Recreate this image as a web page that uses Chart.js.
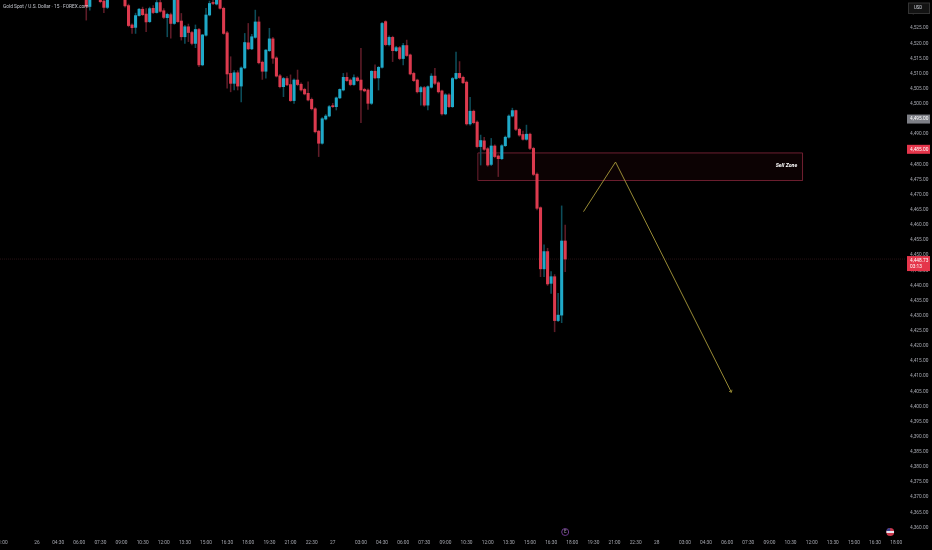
<!DOCTYPE html>
<html>
<head>
<meta charset="utf-8">
<title>Gold Spot / U.S. Dollar</title>
<script src="https://cdn.jsdelivr.net/npm/chart.js@4/dist/chart.umd.min.js"></script>
<style>
  html, body { margin: 0; padding: 0; background: #000; overflow: hidden; }
  canvas { display: block; }
</style>
</head>
<body>
<canvas id="goldChart" width="932" height="550"></canvas>
<script>
// 15 minute bars, one slot per category, blank = no tick text
const categories = [
  '21:00','','','','','','','','','',
  '26','','','','','',
  '04:30','','','','','',
  '06:00','','','','','',
  '07:30','','','','','',
  '09:00','','','','','',
  '10:30','','','','','',
  '12:00','','','','','',
  '13:30','','','','','',
  '15:00','','','','','',
  '16:30','','','','','',
  '18:00','','','','','',
  '19:30','','','','','',
  '21:00','','','','','',
  '22:30','','','','','',
  '27','','','','','','','',
  '03:00','','','','','',
  '04:30','','','','','',
  '06:00','','','','','',
  '07:30','','','','','',
  '09:00','','','','','',
  '10:30','','','','','',
  '12:00','','','','','',
  '13:30','','','','','',
  '15:00','','','','','',
  '16:30','','','','','',
  '18:00','','','','','',
  '19:30','','','','','',
  '21:00','','','','','',
  '22:30','','','','','',
  '28','','','','','','','',
  '03:00','','','','','',
  '04:30','','','','','',
  '06:00','','','','','',
  '07:30','','','','','',
  '09:00','','','','','',
  '10:30','','','','','',
  '12:00','','','','','',
  '13:30','','','','','',
  '15:00','','','','','',
  '16:30','','','','','',
  '18:00','',''
];

// first slot that has a bar, everything earlier is off the picture
const firstBar = 24;

const opens = [
  4537,4532.2,4536,4538,4536,4534,4531.9,4537,4540,4541,
  4539,4537,4532.5,4526.1,4525.3,4529.2,4531.3,4529.7,4527.2,4531.6,
  4530.2,4533.5,4530.8,4528.5,4529.5,4526.6,4535,4527.4,4522.2,4525.5,
  4523.6,4520,4524.6,4512.9,4522.7,4529.4,4533.5,4533,4536,4531.6,
  4523.5,4510.1,4506.8,4510.3,4505.9,4511.9,4520.2,4518.2,4522,4527.1,
  4513.8,4510.8,4517.6,4521.5,4515.2,4509.3,4505.7,4508.4,4506.4,4501.1,
  4507.9,4506.5,4504.8,4503.5,4501.5,4498.4,4491,4487,4495,4496,
  4499.4,4499.1,4502,4504.6,4508.8,4507.9,4506.4,4508.6,4507.9,4504.8,
  4504.6,4500.2,4510.8,4508.6,4512.1,4527.2,4519.6,4522,4517.6,4518.6,
  4515,4519.3,4516.2,4510.1,4507.9,4504,4505.4,4499.6,4505.5,4509.2,
  4507,4504.3,4496.7,4503,4499.1,4508.4,4510.1,4508.8,4507.2,4493.4,
  4497.6,4494,4485.9,4487.8,4485.2,4480,4486.1,4482.8,4481.9,4486.2,
  4489,4496,4497.8,4491.6,4489.9,4488.3,4490,4485.3,4476.8,4465.7,
  4445.5,4451.2,4440.7,4442.9,4428.4,4430.2,4454.7
];
const closes = [
  4532.2,4536,4538,4539,4533.8,4531.9,4537,4540,4541,4539,
  4538,4532.4,4525.9,4525.2,4529.2,4531.3,4529.5,4527.1,4531.5,4530.2,
  4533.5,4530.6,4528.6,4529.6,4526.6,4535,4527.2,4522.2,4525.5,4523.6,
  4520,4524.6,4512.9,4522.8,4529.4,4533.2,4533.2,4536,4531.6,4523.3,
  4509.9,4506.8,4510.3,4505.9,4511.9,4520.3,4518.2,4522.2,4527.1,4513.6,
  4510.8,4517.8,4521.5,4515.1,4509.2,4505.7,4508.4,4506.3,4501.1,4507.9,
  4506.4,4504.6,4503.3,4501.3,4498.4,4490.8,4487,4495.1,4496,4499.1,
  4499.1,4502,4504.8,4508.8,4507.7,4506.4,4508.7,4507.7,4504.6,4504.3,
  4500.2,4510.8,4508.6,4512.1,4526.6,4519.6,4522,4517.6,4518.6,4515,
  4519.3,4516,4509.9,4507.7,4504,4505.4,4499.6,4505.7,4509.2,4506.8,
  4504,4496.7,4503,4499.1,4508.4,4510.1,4508.7,4507,4493.4,4497.6,
  4493.8,4485.9,4487.9,4485,4479.8,4486.1,4482.6,4481.9,4486.2,4489,
  4496,4497.8,4491.6,4489.7,4488.3,4490,4485.3,4476.7,4465.5,4445.5,
  4451.2,4440.5,4442.9,4428.4,4430.2,4454.7,4448.73
];
const highs = [
  4538,4537,4539,4540,4537,4535,4538,4541,4542,4542,
  4540,4538,4533,4526.5,4530,4531.6,4532,4531.5,4532,4532.5,
  4534.2,4534.3,4531.5,4530,4530,4536,4536,4529.9,4526,4526.4,
  4524,4526.1,4525,4523,4531.6,4534,4535,4537,4537,4532,
  4524,4515.6,4511,4511,4512.3,4523.3,4526.6,4523,4531,4528.8,
  4514.2,4518,4525,4522,4515.6,4509.8,4508.8,4509,4509.6,4508.3,
  4511.2,4507,4505.2,4507.3,4502,4498.8,4491.3,4495.5,4496.5,4499.5,
  4500.2,4502.3,4505,4510.1,4510.3,4508.3,4509.6,4509,4518.4,4505.2,
  4505,4511,4512.9,4512.4,4527,4527.5,4522.5,4522.4,4519,4519,
  4520,4521.1,4516.5,4510.5,4508.2,4505.8,4505.8,4506,4510,4511.8,
  4507.4,4504.6,4503.4,4503.4,4508.8,4517.1,4514,4509.2,4507.6,4502.2,
  4498,4494.4,4489.7,4489,4485.6,4488.6,4486.5,4483.2,4486.6,4489.4,
  4496.4,4498.6,4498,4492,4491,4493,4490.4,4485.7,4477.2,4466,
  4453.4,4452.3,4444.6,4443.6,4437.4,4466.3,4460
];
const lows = [
  4527.7,4531,4535.5,4537.5,4533.4,4530.2,4531.5,4536.5,4539.5,4538.5,
  4537.5,4532,4525.5,4523.3,4523.3,4529,4529.2,4523.9,4526.9,4529.8,
  4530,4530.3,4528.2,4522.2,4521.7,4526.3,4526.9,4521.1,4520,4520.6,
  4519.5,4518.6,4512.3,4512.6,4522.4,4529.1,4532.8,4532.7,4531.3,4523,
  4505.2,4504,4504.6,4504.6,4500.7,4511.6,4517.9,4517.9,4521.7,4513.2,
  4508.1,4508.5,4517.3,4513.4,4508.9,4505.3,4502.4,4506,4500.8,4500.2,
  4506,4504.2,4503,4501,4498,4490.4,4482.6,4486.7,4494.7,4495.7,
  4498.8,4498,4501.7,4504.3,4507.4,4506,4506.1,4507.4,4493.8,4504,
  4498.2,4499.8,4508.3,4504.6,4511.8,4519.2,4519.2,4514,4517.3,4514.6,
  4512.9,4515.7,4509.6,4507.4,4503.6,4499.6,4499.2,4498,4505.2,4506.4,
  4503.6,4496.3,4496.4,4498.8,4498.8,4508.1,4508.4,4506.7,4493,4493,
  4493.4,4485.5,4479.8,4484.6,4479.4,4479.6,4482.2,4476,4481.6,4485.9,
  4488.7,4495.7,4491.2,4489.3,4488,4488,4484.9,4476.3,4465,4442.9,
  4442.9,4440,4437.4,4424.7,4428,4427.7,4444.6
];

// price range the pane shows
const priceMin = 4357.2;
const priceMax = 4534.35;

// drawings, in bar slots and prices
const zoneSlots = [135.2, 227.4];
const zonePrices = [4483.8, 4474.7];
const pathSlots = [165.2, 174.3, 207.2];
const pathPrices = [4464.4, 4480.8, 4404.7];

const lastPrice = 4448.73;
const countdown = '03:13';
const greyMark = 4495;
const redMark = 4485;

const UP = '#1fa9c8', DOWN = '#dc3a4e';
const UP_WICK = '#0d4d5a', DOWN_WICK = '#5f1c28';
const AXIS_FONT = 'Roboto, sans-serif';
const AXIS_SIZE = 4.8;

const padBars = (arr) => new Array(firstBar).fill(null).concat(arr);
const bodies = padBars(opens.map((o, i) => [o, closes[i]]));
const wicks = padBars(lows.map((l, i) => [l, highs[i]]));
const isUp = (i) => closes[i - firstBar] >= opens[i - firstBar];

const fmt = (v) => v.toLocaleString('en-US', { minimumFractionDigits: 2, maximumFractionDigits: 2 });

function priceBox(ctx, y, h, bg, lines) {
  ctx.fillStyle = bg;
  ctx.fillRect(907, y - 4.5, 23, h);
  ctx.fillStyle = '#fff';
  ctx.font = AXIS_SIZE + 'px ' + AXIS_FONT;
  ctx.textAlign = 'left';
  ctx.textBaseline = 'middle';
  lines.forEach((t, i) => ctx.fillText(t, 910, y + i * 6.5));
}

// text and small items on top of the pane
const overlay = {
  id: 'overlay',
  afterDraw(chart) {
    const { ctx } = chart;
    const x = chart.scales.x, y = chart.scales.y, xp = chart.scales.xp;
    ctx.save();

    // symbol line
    ctx.fillStyle = '#c9ccd4';
    ctx.font = AXIS_SIZE + 'px ' + AXIS_FONT;
    ctx.textAlign = 'left';
    ctx.textBaseline = 'middle';
    ctx.fillText('Gold Spot / U.S. Dollar · 15 · FOREX.com', 3, 6.5);

    // sell zone text
    ctx.fillStyle = '#fff';
    ctx.font = 'italic bold 5.3px ' + AXIS_FONT;
    ctx.textAlign = 'right';
    ctx.fillText('Sell Zone', xp.getPixelForValue(225.9), y.getPixelForValue(4479.5));

    // arrow head on the end of the yellow path
    const n = pathSlots.length - 1;
    const ex = xp.getPixelForValue(pathSlots[n]), ey = y.getPixelForValue(pathPrices[n]);
    const ang = Math.atan2(ey - y.getPixelForValue(pathPrices[n - 1]), ex - xp.getPixelForValue(pathSlots[n - 1]));
    ctx.strokeStyle = '#a89a3a';
    ctx.lineWidth = 0.8;
    ctx.beginPath();
    ctx.moveTo(ex - 2.6 * Math.cos(ang - 0.7), ey - 2.6 * Math.sin(ang - 0.7));
    ctx.lineTo(ex, ey);
    ctx.lineTo(ex - 2.6 * Math.cos(ang + 0.7), ey - 2.6 * Math.sin(ang + 0.7));
    ctx.stroke();

    // price tags
    priceBox(ctx, y.getPixelForValue(greyMark), 9, '#7d7f86', [fmt(greyMark)]);
    priceBox(ctx, y.getPixelForValue(redMark), 9, '#e5354b', [fmt(redMark)]);
    priceBox(ctx, y.getPixelForValue(lastPrice) + 1.5, 15, '#e5354b', [fmt(lastPrice), countdown]);

    // currency button
    ctx.fillStyle = '#131313';
    ctx.strokeStyle = '#333';
    ctx.lineWidth = 1;
    ctx.fillRect(908.5, 3, 21, 10.5);
    ctx.strokeRect(908.5, 3, 21, 10.5);
    ctx.fillStyle = '#c9ccd4';
    ctx.font = '4.6px ' + AXIS_FONT;
    ctx.textAlign = 'center';
    ctx.fillText('USD', 918, 8);

    // earnings marker under the last bar
    const ex2 = x.getPixelForValue(160);
    ctx.strokeStyle = '#6d3a8e';
    ctx.beginPath();
    ctx.arc(ex2, 532, 3.5, 0, Math.PI * 2);
    ctx.stroke();
    ctx.fillStyle = '#a996b6';
    ctx.font = '4.5px ' + AXIS_FONT;
    ctx.fillText('E', ex2, 532.3);

    // flag marker
    const fx = x.getPixelForValue(252.3);
    ctx.beginPath();
    ctx.arc(fx, 532, 4, 0, Math.PI * 2);
    ctx.clip();
    ctx.fillStyle = '#c9374a';
    ctx.fillRect(fx - 4, 528, 8, 8);
    ctx.fillStyle = '#e8e8f0';
    ctx.fillRect(fx - 4, 531, 8, 2);
    ctx.fillStyle = '#3b3f8f';
    ctx.fillRect(fx - 4, 528, 4, 3);
    ctx.restore();
  }
};

new Chart(document.getElementById('goldChart'), {
  type: 'bar',
  data: {
    labels: categories,
    datasets: [
      {
        // candle bodies
        data: bodies,
        order: 1,
        barThickness: 2.4,
        minBarLength: 1,
        backgroundColor: (c) => (isUp(c.dataIndex) ? UP : DOWN)
      },
      {
        // high to low
        data: wicks,
        order: 2,
        barThickness: 0.9,
        backgroundColor: (c) => (isUp(c.dataIndex) ? UP_WICK : DOWN_WICK)
      },
      {
        // yellow path
        type: 'line',
        xAxisID: 'xp',
        order: 0,
        data: pathSlots.map((s, i) => ({ x: s, y: pathPrices[i] })),
        borderColor: '#a89a3a',
        borderWidth: 0.9,
        pointRadius: 0,
        tension: 0
      },
      {
        // sell zone box
        type: 'line',
        xAxisID: 'xp',
        order: 3,
        data: [
          { x: zoneSlots[0], y: zonePrices[0] },
          { x: zoneSlots[1], y: zonePrices[0] },
          { x: zoneSlots[1], y: zonePrices[1] },
          { x: zoneSlots[0], y: zonePrices[1] },
          { x: zoneSlots[0], y: zonePrices[0] }
        ],
        borderColor: '#6d1f30',
        borderWidth: 1,
        backgroundColor: 'rgba(150,20,40,0.08)',
        fill: 'shape',
        pointRadius: 0,
        tension: 0
      },
      {
        // last price line
        type: 'line',
        xAxisID: 'xp',
        order: 4,
        data: [{ x: -0.5, y: lastPrice }, { x: 256.5, y: lastPrice }],
        borderColor: '#2a1216',
        borderWidth: 1,
        borderDash: [1, 1],
        pointRadius: 0
      }
    ]
  },
  options: {
    responsive: false,
    animation: false,
    layout: { padding: 0 },
    datasets: { bar: { grouped: false } },
    plugins: { legend: { display: false }, tooltip: { enabled: false }, title: { display: false } },
    scales: {
      x: {
        type: 'category',
        offset: true,
        grid: { display: false, drawTicks: false },
        border: { display: false },
        ticks: {
          autoSkip: false,
          maxRotation: 0,
          minRotation: 0,
          padding: 4,
          color: '#a6a8b0',
          font: { family: AXIS_FONT, size: AXIS_SIZE },
          callback(v) { return categories[v]; }
        },
        afterFit(s) { s.height = 14; s.paddingLeft = 0; s.paddingRight = 0; }
      },
      xp: { type: 'linear', display: false, offset: false, min: -0.5, max: 256.5 },
      y: {
        position: 'right',
        min: priceMin,
        max: priceMax,
        grid: { display: false, drawTicks: false },
        border: { display: false },
        afterBuildTicks(s) { s.ticks = s.ticks.filter((t) => t.value % 5 === 0); },
        ticks: {
          stepSize: 5,
          autoSkip: false,
          padding: 5,
          crossAlign: 'near',
          color: '#a6a8b0',
          font: { family: AXIS_FONT, size: AXIS_SIZE },
          callback: fmt
        },
        afterFit(s) { s.width = 27; s.paddingTop = 0; s.paddingBottom = 0; }
      }
    }
  },
  plugins: [overlay]
});
</script>
</body>
</html>
